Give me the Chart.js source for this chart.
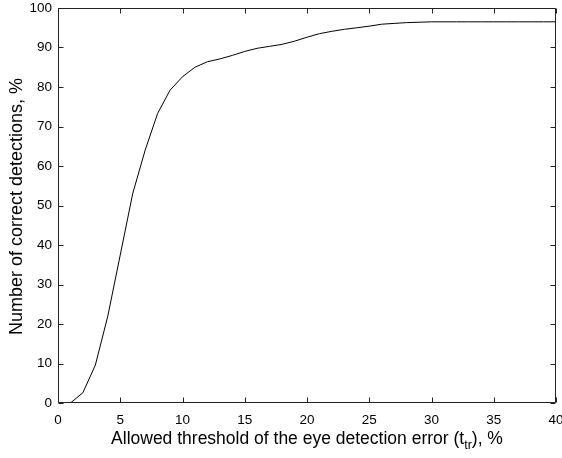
<!DOCTYPE html>
<html>
<head>
<meta charset="utf-8">
<script src="https://cdn.jsdelivr.net/npm/chart.js@4"></script>
<style>
html,body{margin:0;padding:0;background:#fff;}
#wrap{width:562px;height:458px;position:relative;}
</style>
</head>
<body>
<div id="wrap"><canvas id="c" width="562" height="458"></canvas></div>
<script>
// Data
const thresholds = [1,2,3,4,5,6,7,8,9,10,11,12,13,14,15,16,17,18,19,20,21,22,23,24,25,26,27,28,29,30,31,32,33,34,35,36,37,38,39,40];
const correctDetections = [0,2.6,9.6,22,37.5,53,64,73.3,79.2,82.6,85.0,86.4,87.1,88.0,89.0,89.8,90.3,90.8,91.6,92.6,93.5,94.1,94.6,95.0,95.4,95.9,96.1,96.3,96.4,96.5,96.5,96.5,96.5,96.5,96.5,96.5,96.5,96.5,96.5,96.5];
const xTickValues = [0,5,10,15,20,25,30,35,40];
const yTickValues = [0,10,20,30,40,50,60,70,80,90,100];
const xTitleMain = "Allowed threshold of the eye detection error (t";
const xTitleSub = "tr";
const xTitleEnd = "), %";
const yTitle = "Number of correct detections, %";

const FONT = "'Liberation Sans', Arial, sans-serif";

const boxPlugin = {
  id: 'matlabBox',
  afterDraw(chart) {
    const ctx = chart.ctx;
    const a = chart.chartArea;
    const xs = chart.scales.x, ys = chart.scales.y;
    const L = Math.round(a.left) + 0.5, R = Math.round(a.right) - 0.5;
    const T = Math.round(a.top) + 0.5, B = Math.round(a.bottom) - 0.5;
    ctx.save();
    ctx.strokeStyle = '#222';
    ctx.lineWidth = 1;
    ctx.beginPath();
    ctx.rect(L, T, R - L, B - T);
    ctx.stroke();
    ctx.beginPath();
    const tl = 5;
    xTickValues.forEach(v => {
      const px = Math.round(xs.getPixelForValue(v)) + 0.5;
      ctx.moveTo(px, B); ctx.lineTo(px, B - tl);
      ctx.moveTo(px, T); ctx.lineTo(px, T + tl);
    });
    yTickValues.forEach(v => {
      const py = Math.round(ys.getPixelForValue(v)) + 0.5;
      ctx.moveTo(L, py); ctx.lineTo(L + tl, py);
      ctx.moveTo(R, py); ctx.lineTo(R - tl, py);
    });
    ctx.stroke();

    // axis titles
    ctx.fillStyle = '#000';
    ctx.textBaseline = 'alphabetic';
    const mainFont = '17.5px ' + FONT;
    const subFont = '12.5px ' + FONT;
    ctx.font = mainFont;
    const w1 = ctx.measureText(xTitleMain).width;
    const w3 = ctx.measureText(xTitleEnd).width;
    ctx.font = subFont;
    const w2 = ctx.measureText(xTitleSub).width;
    const total = w1 + w2 + w3;
    let x0 = (a.left + a.right) / 2 - total / 2;
    const baseY = 444;
    ctx.textAlign = 'left';
    ctx.font = mainFont;
    ctx.fillText(xTitleMain, x0, baseY);
    ctx.font = subFont;
    ctx.fillText(xTitleSub, x0 + w1, baseY + 5);
    ctx.font = mainFont;
    ctx.fillText(xTitleEnd, x0 + w1 + w2, baseY);

    ctx.translate(22, (a.top + a.bottom) / 2 + 1);
    ctx.rotate(-Math.PI / 2);
    ctx.textAlign = 'center';
    ctx.font = '18px ' + FONT;
    ctx.fillText(yTitle, 0, 0);
    ctx.restore();
  }
};

new Chart(document.getElementById('c'), {
  type: 'line',
  data: {
    datasets: [{
      data: thresholds.map((t, i) => ({x: t, y: correctDetections[i]})),
      borderColor: '#000',
      borderWidth: 1,
      pointRadius: 0,
      tension: 0,
      fill: false
    }]
  },
  options: {
    responsive: false,
    animation: false,
    events: [],
    layout: {padding: {left: 0, right: 6, top: 8, bottom: 0}},
    plugins: {legend: {display: false}, tooltip: {enabled: false}},
    scales: {
      x: {
        type: 'linear', min: 0, max: 40,
        afterFit(s) { s.height = 55; s.paddingLeft = 0; s.paddingRight = 0; },
        afterBuildTicks(s) { s.ticks = xTickValues.map(v => ({value: v})); },
        grid: {display: false, drawTicks: false},
        border: {display: false},
        ticks: {color: '#000', padding: 9, font: {family: FONT, size: 13.5}, maxRotation: 0, autoSkip: false}
      },
      y: {
        type: 'linear', min: 0, max: 100,
        afterFit(s) { s.width = 58; s.paddingTop = 0; s.paddingBottom = 0; },
        afterBuildTicks(s) { s.ticks = yTickValues.map(v => ({value: v})); },
        grid: {display: false, drawTicks: false},
        border: {display: false},
        ticks: {color: '#000', padding: 6, font: {family: FONT, size: 13.5}, autoSkip: false}
      }
    }
  },
  plugins: [boxPlugin]
});
</script>
</body>
</html>
